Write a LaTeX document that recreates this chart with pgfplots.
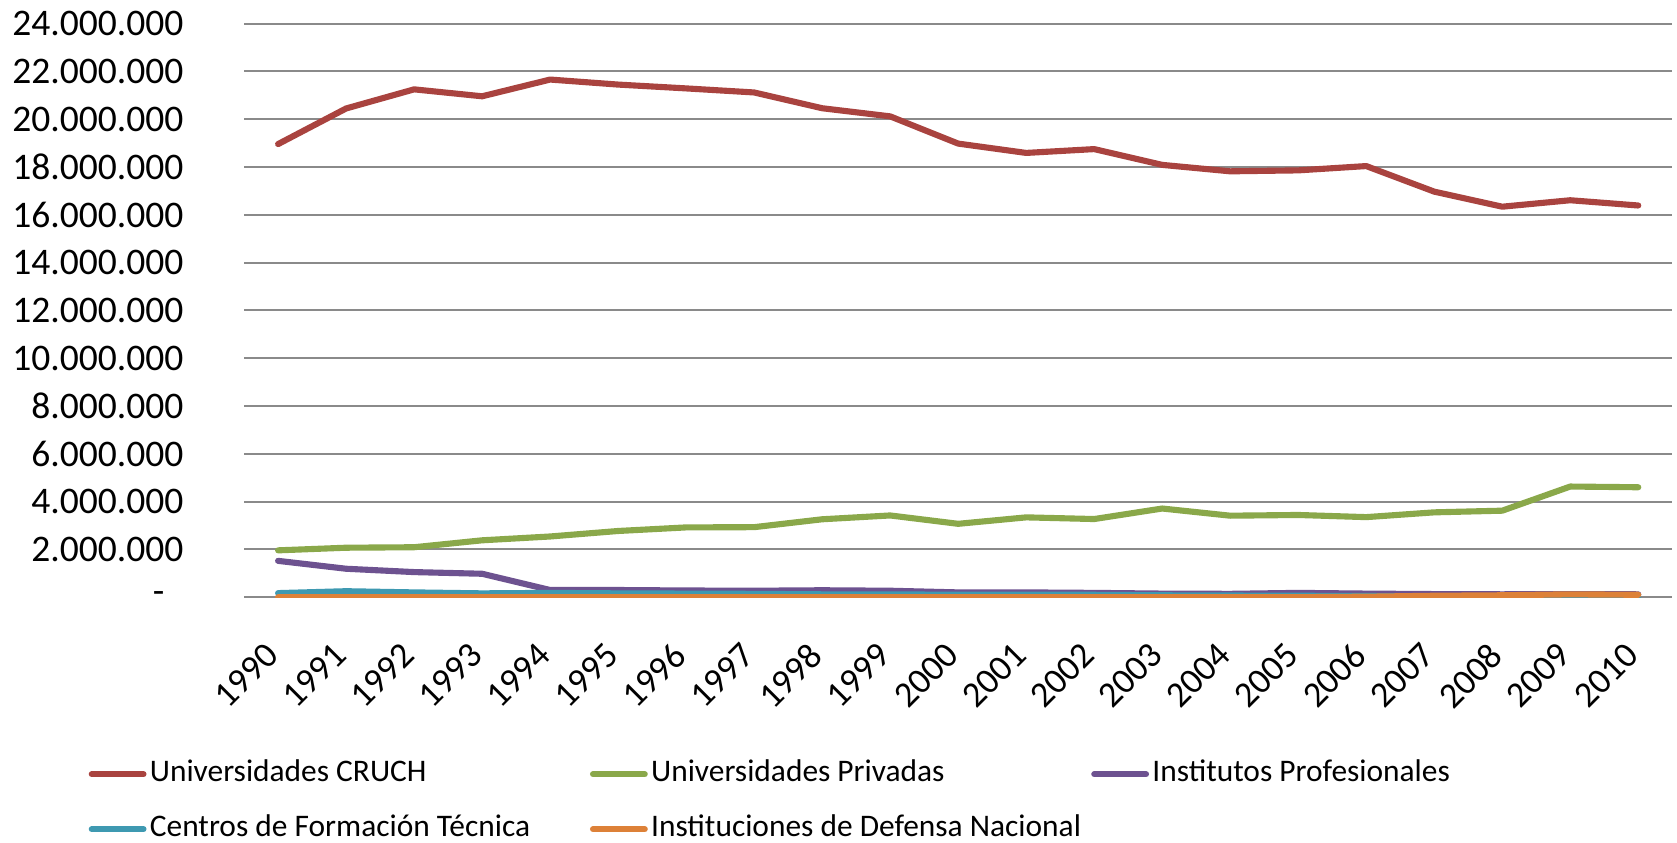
\documentclass[border=0pt]{standalone}
\usepackage{fontspec}
\setmainfont{Carlito}
\usepackage{pgfplots}
\usepackage{pgfplotstable}
\pgfplotsset{compat=1.18}
\definecolor{cruch}{HTML}{A9433F}
\definecolor{priv}{HTML}{8AA84A}
\definecolor{ip}{HTML}{6D5290}
\definecolor{cft}{HTML}{3E99B1}
\definecolor{def}{HTML}{DD8138}
\definecolor{gridc}{HTML}{8A8A8A}
\pgfplotstableread{
year cruch priv ip cft def
1990 18960000 1960000 1520000 170000 0
1991 20450000 2070000 1190000 250000 0
1992 21250000 2090000 1050000 200000 0
1993 20960000 2380000 980000 160000 0
1994 21660000 2540000 300000 180000 0
1995 21450000 2770000 300000 160000 0
1996 21290000 2920000 280000 150000 0
1997 21120000 2930000 270000 140000 0
1998 20460000 3260000 290000 120000 0
1999 20120000 3420000 270000 120000 0
2000 18980000 3070000 200000 100000 0
2001 18590000 3340000 200000 100000 0
2002 18750000 3270000 180000 100000 0
2003 18090000 3710000 150000 80000 0
2004 17820000 3410000 140000 70000 0
2005 17860000 3440000 180000 60000 0
2006 18040000 3350000 150000 50000 20000
2007 16970000 3550000 130000 30000 60000
2008 16340000 3620000 120000 20000 80000
2009 16610000 4630000 130000 20000 120000
2010 16390000 4600000 120000 10000 100000
}\datatable
\begin{document}
\begin{tikzpicture}
\useasboundingbox (-87.8pt,-88.1pt) rectangle (515.4pt,214.8pt);
\begin{axis}[
  at={(0pt,0pt)}, anchor=south west,
  width=513.7pt, height=206.3pt, scale only axis,
  xmin=1989.5, xmax=2010.5, ymin=0, ymax=24000000,
  xtick={1990,1991,1992,1993,1994,1995,1996,1997,1998,1999,2000,2001,2002,2003,2004,2005,2006,2007,2008,2009,2010},
  xticklabels={1990,1991,1992,1993,1994,1995,1996,1997,1998,1999,2000,2001,2002,2003,2004,2005,2006,2007,2008,2009,2010},
  ytick={0,2000000,4000000,6000000,8000000,10000000,12000000,14000000,16000000,18000000,20000000,22000000,24000000},
  yticklabels={-\hphantom{0},2.000.000,4.000.000,6.000.000,8.000.000,10.000.000,12.000.000,14.000.000,16.000.000,18.000.000,20.000.000,22.000.000,24.000.000},
  scaled y ticks=false,
  axis line style={draw=none},
  tick style={draw=none},
  ymajorgrids,
  grid style={draw=gridc, line width=0.75pt},
  yticklabel style={font=\fontsize{13.5}{15}\selectfont, xshift=-18.3pt, anchor=east},
  xticklabel style={font=\fontsize{13}{15}\selectfont, inner sep=0pt, xshift=-2pt, yshift=-18.7pt, rotate=45, anchor=east},
  every axis plot/.append style={line width=2.2pt, line join=round, line cap=round},
  legend columns=3,
  legend cell align=left,
  legend style={draw=none, fill=none, at={(-0.1088,-0.282)}, anchor=north west,
    font=\fontsize{11.3}{13}\selectfont, inner sep=0pt, outer sep=0pt,
    column sep=0pt, row sep=8.8pt,
    nodes={inner sep=0pt, text height=8pt, text depth=3pt}},
  legend image code/.code={\draw[#1, line width=2.2pt, line cap=round] (0pt,0pt) -- (18.6pt,0pt);},
]
\addplot[cruch] table[x=year, y=cruch] {\datatable};
\addlegendentry{\hspace{1.2pt}\makebox[158.3pt][l]{Universidades CRUCH}}
\addplot[priv] table[x=year, y=priv] {\datatable};
\addlegendentry{\hspace{1.2pt}\makebox[158.3pt][l]{Universidades Privadas}}
\addplot[ip] table[x=year, y=ip] {\datatable};
\addlegendentry{\hspace{1.2pt}\makebox[158.3pt][l]{Institutos Profesionales}}
\addplot[cft] table[x=year, y=cft] {\datatable};
\addlegendentry{\hspace{1.2pt}\makebox[158.3pt][l]{Centros de Formación Técnica}}
\addplot[def] table[x=year, y=def] {\datatable};
\addlegendentry{\hspace{1.2pt}\makebox[158.3pt][l]{Instituciones de Defensa Nacional}}
\end{axis}
\end{tikzpicture}
\end{document}
